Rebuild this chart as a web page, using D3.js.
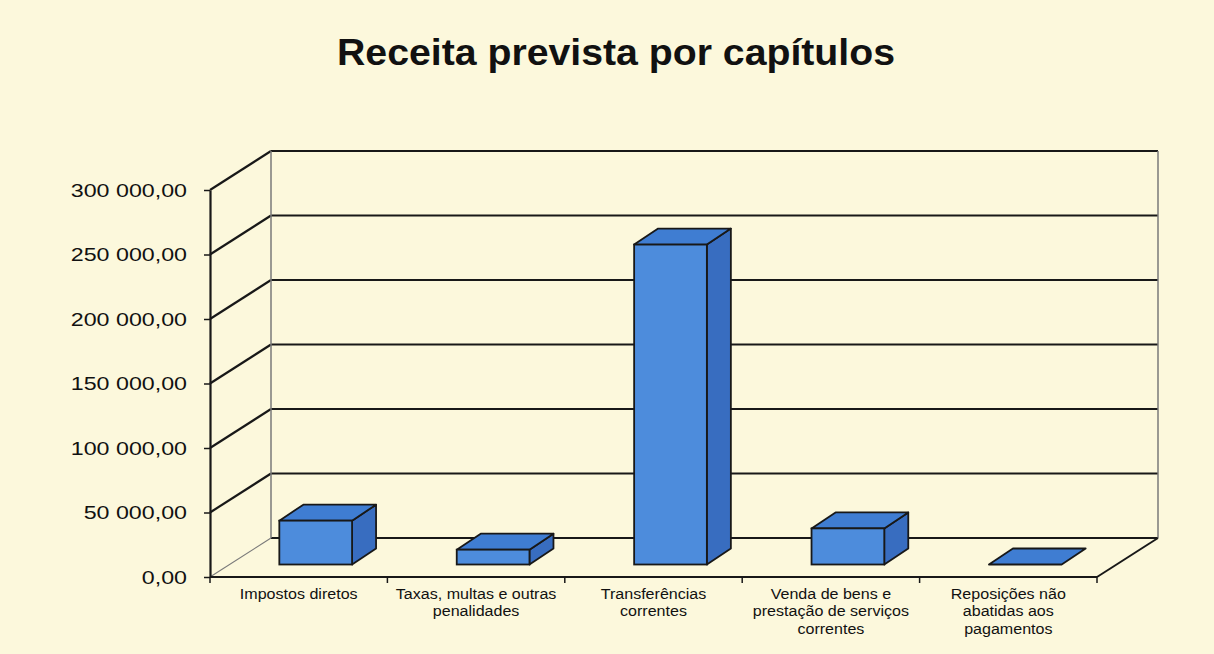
<!DOCTYPE html>
<html><head><meta charset="utf-8">
<script src="https://cdn.jsdelivr.net/npm/d3@7"></script>
<style>html,body{margin:0;padding:0;background:#fcf8dc;} svg{display:block}</style>
</head><body><svg id="chart" width="1214" height="654"></svg>
<script>
const title = "Receita prevista por capítulos";
const categories = [
  "Impostos diretos",
  "Taxas, multas e outras penalidades",
  "Transferências correntes",
  "Venda de bens e prestação de serviços correntes",
  "Reposições não abatidas aos pagamentos"
];
const values = [34000, 11500, 248000, 28000, 0];
const yTicks = [0, 50000, 100000, 150000, 200000, 250000, 300000];

const W = 1214, H = 654;
const FONT = "'Liberation Sans', Arial, Helvetica, sans-serif";
const svg = d3.select("#chart");
svg.append("rect").attr("width", W).attr("height", H).attr("fill", "#fcf8dc");

// layout
const x0 = 210, x1 = 1097, yBase = 577, yTop = 190;
const DX = 61, DY = 39;            // wall depth offset
const BF = {dx: 17, dy: -12.5};    // bar front offset from front plane
const BD = {dx: 24, dy: -16};      // bar depth
const x = d3.scaleBand().domain(categories).range([x0, x1]);
const y = d3.scaleLinear().domain([0, 300000]).range([yBase, yTop]);
const fmt = d3.formatLocale({decimal: ",", thousands: " ", grouping: [3], currency: ["", ""]}).format(",.2f");
const dark = "#181818", grey = "#7a7a7a";

const g = svg.append("g");

// back wall gridlines
g.selectAll("line.grid").data(yTicks).join("line")
  .attr("x1", x0 + DX).attr("x2", x1 + DX)
  .attr("y1", d => y(d) - DY).attr("y2", d => y(d) - DY)
  .attr("stroke", dark).attr("stroke-width", 2.2);
// side wall diagonals
g.selectAll("line.diag").data(yTicks).join("line")
  .attr("x1", x0).attr("y1", d => y(d))
  .attr("x2", x0 + DX).attr("y2", d => y(d) - DY)
  .attr("stroke", d => d === 0 ? grey : dark)
  .attr("stroke-width", d => d === 0 ? 1.2 : 2.2);
// back wall verticals
[x0 + DX, x1 + DX].forEach(xx => {
  g.append("line").attr("x1", xx).attr("x2", xx)
    .attr("y1", y(300000) - DY).attr("y2", y(0) - DY)
    .attr("stroke", grey).attr("stroke-width", 1.5);
});
// floor right diagonal
g.append("line").attr("x1", x1).attr("y1", yBase).attr("x2", x1 + DX).attr("y2", yBase - DY)
  .attr("stroke", dark).attr("stroke-width", 2);

// bars
const bw = x.bandwidth(), w = bw * 0.41;
const bars = g.selectAll("g.bar").data(categories.map((c, i) => ({c, v: values[i]}))).join("g");
bars.each(function(d) {
  const s = d3.select(this);
  const xl = x(d.c) + (bw - w) / 2 + BF.dx, xr = xl + w;
  const yb = yBase + BF.dy, yt = y(d.v) + BF.dy;
  const pts = a => a.map(p => p.join(",")).join(" ");
  if (yb - yt > 0.5) {
    s.append("polygon").attr("points", pts([[xr, yt], [xr + BD.dx, yt + BD.dy], [xr + BD.dx, yb + BD.dy], [xr, yb]]))
      .attr("fill", "#386dc0").attr("stroke", dark).attr("stroke-width", 1.8).attr("stroke-linejoin", "round");
  }
  s.append("polygon").attr("points", pts([[xl, yt], [xl + BD.dx, yt + BD.dy], [xr + BD.dx, yt + BD.dy], [xr, yt]]))
    .attr("fill", "#3f7dd2").attr("stroke", dark).attr("stroke-width", 1.8).attr("stroke-linejoin", "round");
  if (yb - yt > 0.5) {
    s.append("rect").attr("x", xl).attr("y", yt).attr("width", w).attr("height", yb - yt)
      .attr("fill", "#4d8cdc").attr("stroke", dark).attr("stroke-width", 1.8);
  }
});

// value axis
const ya = svg.append("g").attr("transform", `translate(${x0},0)`)
  .call(d3.axisLeft(y).tickValues(yTicks).tickFormat(fmt).tickSize(6).tickSizeOuter(0));
ya.select(".domain").attr("stroke", dark).attr("stroke-width", 2.2);
ya.selectAll(".tick line").attr("stroke", dark).attr("stroke-width", 1.5);
const SX = 1.27;
ya.selectAll(".tick text").attr("font-family", FONT).attr("font-size", 18.3).attr("fill", "#111")
  .attr("x", -23 / SX).attr("dy", "0.35em").attr("transform", `scale(${SX},1)`);

// category axis
svg.append("line").attr("x1", x0).attr("x2", x1).attr("y1", yBase).attr("y2", yBase)
  .attr("stroke", dark).attr("stroke-width", 2.2);
const bounds = categories.map(c => x(c)).concat([x1]);
svg.selectAll("line.ct").data(bounds).join("line")
  .attr("x1", d => d).attr("x2", d => d).attr("y1", yBase).attr("y2", yBase + 6)
  .attr("stroke", dark).attr("stroke-width", 1.5);

// category labels with word wrap
const LSX = 1.05, LFS = 15.3, maxW = 166;
const meas = svg.append("text").attr("font-family", FONT).attr("font-size", LFS).attr("visibility", "hidden");
function widthOf(t) { meas.text(t); return meas.node().getComputedTextLength() * LSX; }
function wrap(t) {
  const words = t.split(" "); const lines = []; let cur = "";
  words.forEach(wd => {
    const test = cur ? cur + " " + wd : wd;
    if (cur && widthOf(test) > maxW) { lines.push(cur); cur = wd; } else cur = test;
  });
  if (cur) lines.push(cur);
  return lines;
}
categories.forEach(c => {
  const cx = x(c) + bw / 2;
  const tg = svg.append("g").attr("transform", `translate(${cx},599) scale(${LSX},1)`);
  wrap(c).forEach((ln, i) => {
    tg.append("text").attr("x", 0).attr("y", i * 17.5).attr("text-anchor", "middle")
      .attr("font-family", FONT).attr("font-size", LFS).attr("fill", "#111").text(ln);
  });
});
meas.remove();

// title
svg.append("text").attr("x", 337).attr("y", 65)
  .attr("font-family", FONT).attr("font-weight", "bold").attr("font-size", 36)
  .attr("textLength", 558).attr("lengthAdjust", "spacingAndGlyphs")
  .attr("fill", "#111").text(title);
</script>
</body></html>
